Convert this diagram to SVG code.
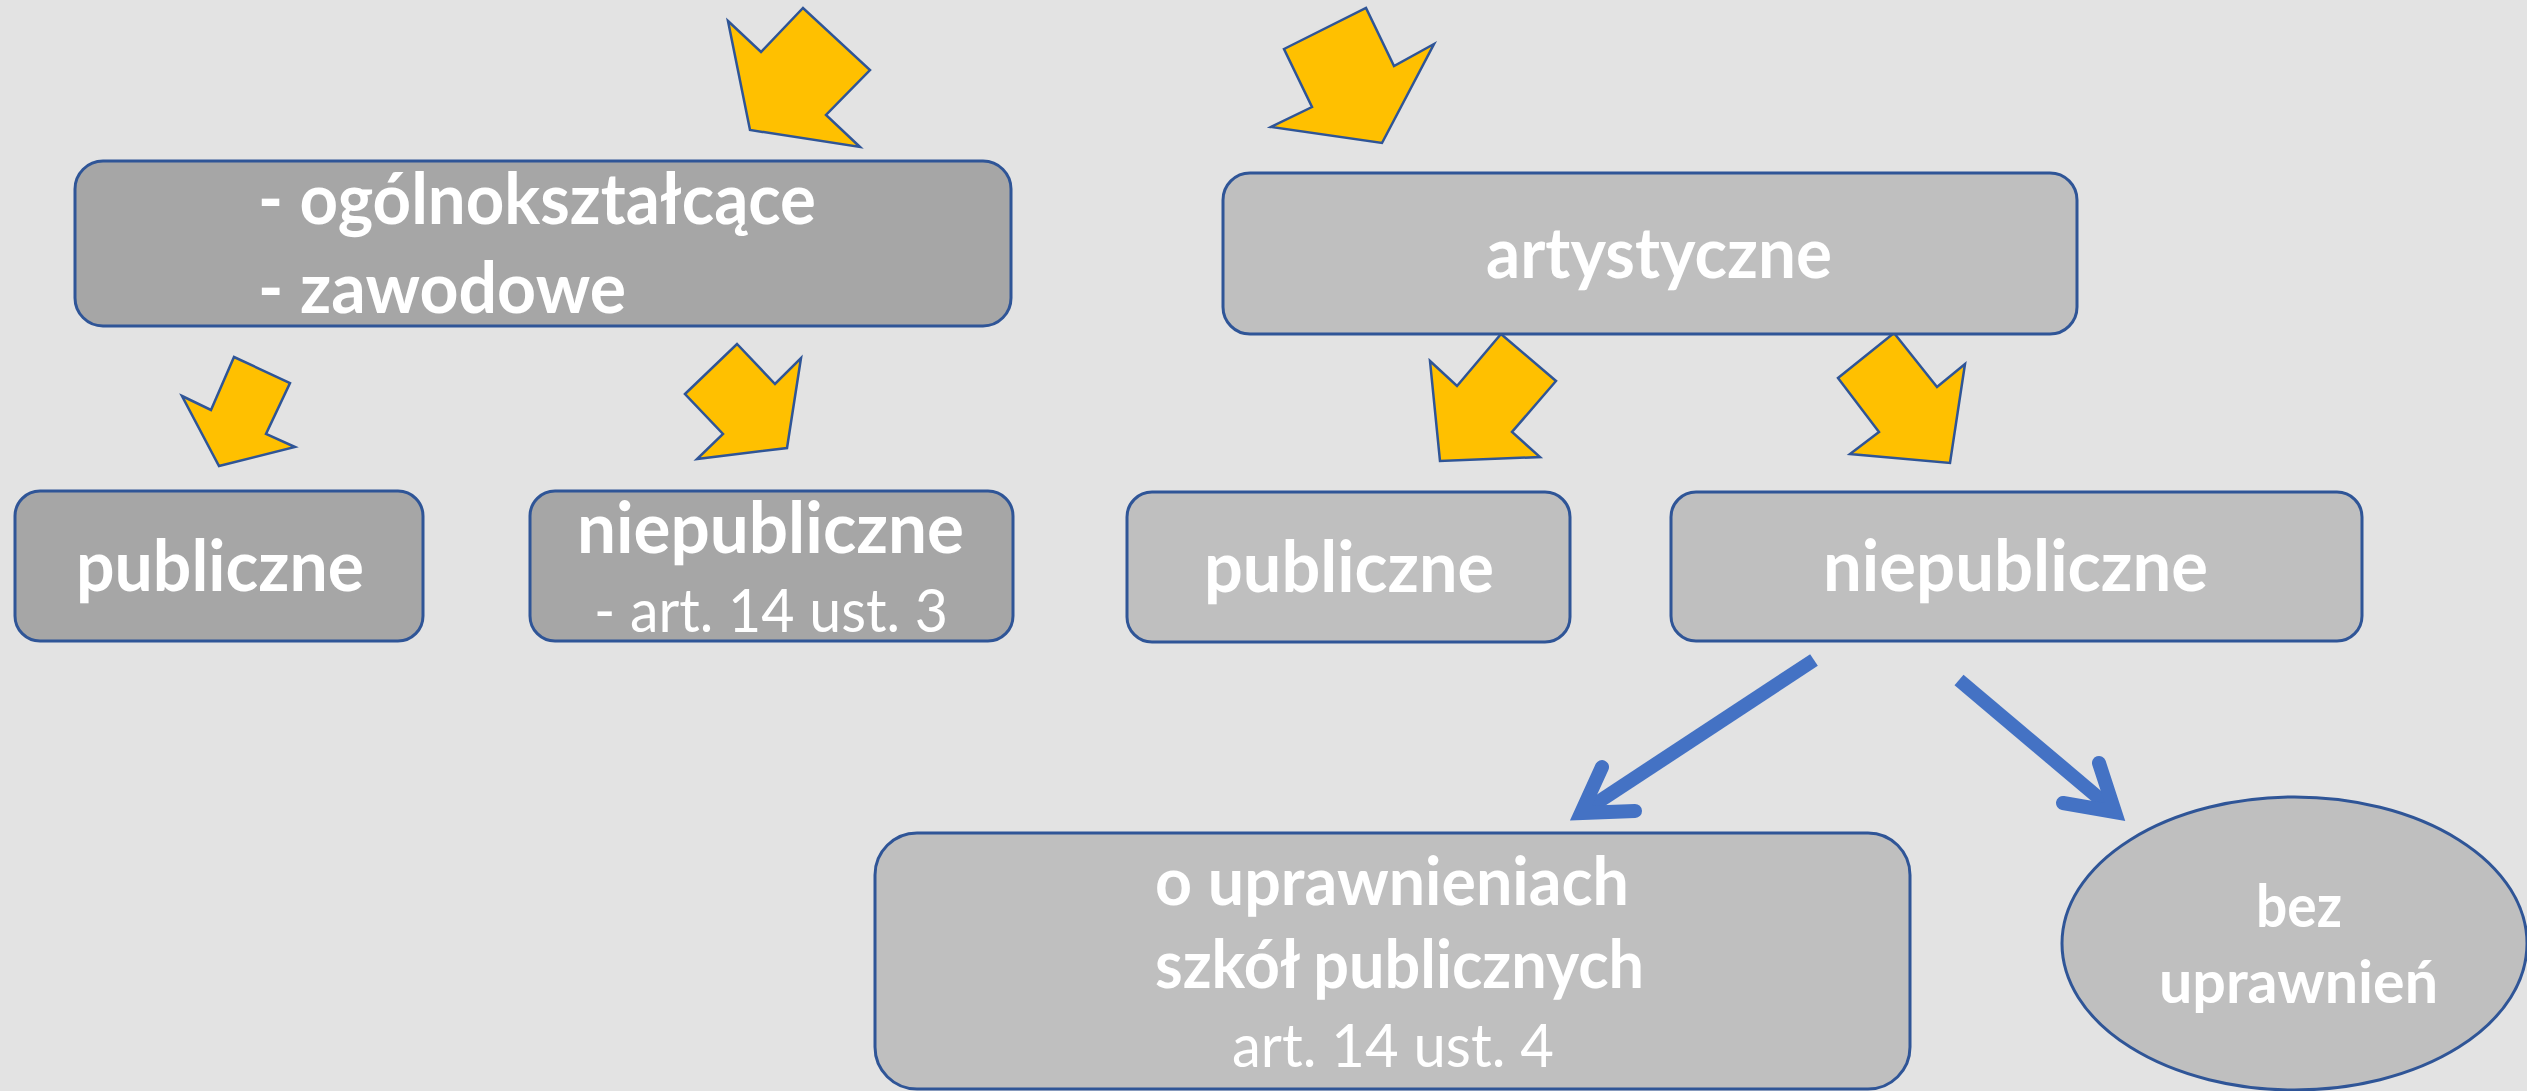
<svg xmlns="http://www.w3.org/2000/svg" width="2527" height="1091" viewBox="0 0 2527 1091">
<style>
.bg{fill:#E3E3E3}
.dark{fill:#A6A6A6;stroke:#2F5597;stroke-width:3}
.light{fill:#BFBFBF;stroke:#2F5597;stroke-width:3}
.ya{fill:#FFC000;stroke:#2F5597;stroke-width:2.5;stroke-linejoin:miter}
.b{font-family:Lato,"Open Sans","Liberation Sans",sans-serif;font-weight:700;fill:#FFFFFF}
.r{font-family:Lato,"Open Sans","Liberation Sans",sans-serif;font-weight:400;fill:#FFFFFF}
.shaft{fill:none;stroke:#4472C4;stroke-width:14;stroke-linecap:butt}
.head{fill:none;stroke:#4472C4;stroke-width:14;stroke-linecap:round;stroke-linejoin:miter;stroke-miterlimit:6}
</style>
<rect class="bg" x="0" y="0" width="2527" height="1091"/>

<g id="connectors">
  <polygon class="ya" points="728,21 761,52 803,8 870,70 826,115 860,147 750,130"/>
  <polygon class="ya" points="1284,49 1366,8 1394,66 1434,44 1382,143 1271,127 1312,107"/>
  <polygon class="ya" points="182,396 211,410 234,357 290,383 266,434 295,447 219,466"/>
  <polygon class="ya" points="685,394 737,344 775,384 801,358 787,448 697,459 723,434"/>
  <polygon class="ya" points="1430,361 1457,386 1501,334 1556,381 1512,432 1540,457 1440,461"/>
  <polygon class="ya" points="1838,378 1894,333 1937,387 1965,364 1950,463 1850,454 1879,432"/>
  <line class="shaft" x1="1814" y1="660" x2="1583" y2="812"/>
  <polyline class="head" points="1602,767 1581,813 1635,811"/>
  <line class="shaft" x1="1959" y1="680" x2="2113" y2="810"/>
  <polyline class="head" points="2099,763 2115,812 2063,803"/>
</g>

<g id="node-ogolne">
  <rect class="dark" x="75" y="161" width="936" height="165" rx="28" ry="28"/>
  <text class="b" x="258" y="224" font-size="71" textLength="558" lengthAdjust="spacingAndGlyphs">- ogólnokształcące</text>
  <text class="b" x="258" y="313" font-size="71" textLength="368" lengthAdjust="spacingAndGlyphs">- zawodowe</text>
</g>

<g id="node-artystyczne">
  <rect class="light" x="1223" y="173" width="854" height="161" rx="27" ry="27"/>
  <text class="b" x="1486" y="278" font-size="71" textLength="346" lengthAdjust="spacingAndGlyphs">artystyczne</text>
</g>

<g id="node-publiczne-1">
  <rect class="dark" x="15" y="491" width="408" height="150" rx="25" ry="25"/>
  <text class="b" x="76" y="591" font-size="71" textLength="288" lengthAdjust="spacingAndGlyphs">publiczne</text>
</g>

<g id="node-niepubliczne-1">
  <rect class="dark" x="530" y="491" width="483" height="150" rx="25" ry="25"/>
  <text class="b" x="577" y="553" font-size="71" textLength="387" lengthAdjust="spacingAndGlyphs">niepubliczne</text>
  <text class="r" x="594" y="632" font-size="60" textLength="354" lengthAdjust="spacingAndGlyphs">- art. 14 ust. 3</text>
</g>

<g id="node-publiczne-2">
  <rect class="light" x="1127" y="492" width="443" height="150" rx="25" ry="25"/>
  <text class="b" x="1204" y="592" font-size="71" textLength="290" lengthAdjust="spacingAndGlyphs">publiczne</text>
</g>

<g id="node-niepubliczne-2">
  <rect class="light" x="1671" y="492" width="691" height="149" rx="25" ry="25"/>
  <text class="b" x="1823" y="591" font-size="71" textLength="385" lengthAdjust="spacingAndGlyphs">niepubliczne</text>
</g>

<g id="node-uprawnienia">
  <rect class="light" x="875" y="833" width="1035" height="256" rx="42" ry="42"/>
  <text class="b" x="1155" y="905" font-size="66" textLength="474" lengthAdjust="spacingAndGlyphs">o uprawnieniach</text>
  <text class="b" x="1155" y="988" font-size="66" textLength="489" lengthAdjust="spacingAndGlyphs">szkół publicznych</text>
  <text class="r" x="1232" y="1067" font-size="60" textLength="322" lengthAdjust="spacingAndGlyphs">art. 14 ust. 4</text>
</g>

<g id="node-bez">
  <ellipse class="light" cx="2294.5" cy="943.5" rx="232.5" ry="146.5" stroke-width="2.5"/>
  <text class="b" x="2256" y="927" font-size="60" textLength="86" lengthAdjust="spacingAndGlyphs">bez</text>
  <text class="b" x="2159" y="1003" font-size="60" textLength="279" lengthAdjust="spacingAndGlyphs">uprawnień</text>
</g>
</svg>
